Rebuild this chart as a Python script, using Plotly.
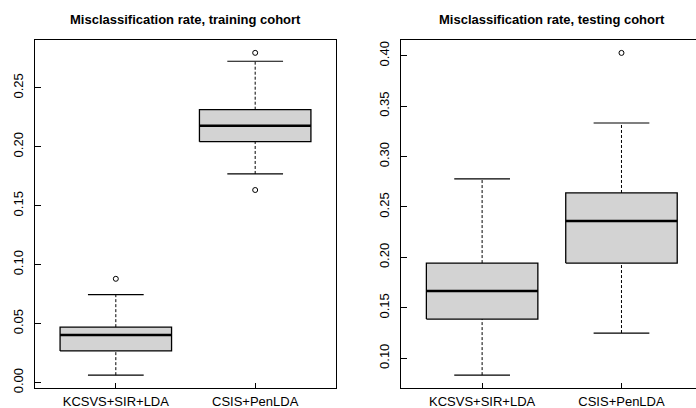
import plotly.graph_objects as go

categories = ["KCSVS+SIR+LDA", "CSIS+PenLDA"]
positions = [1, 2]

train_lower = [0.0063, 0.1769]
train_q1 = [0.0268, 0.2043]
train_median = [0.0404, 0.2178]
train_q3 = [0.0470, 0.2314]
train_upper = [0.0745, 0.2725]
train_outliers = [[0.0880], [0.1633, 0.2796]]

test_lower = [0.0833, 0.1250]
test_q1 = [0.1389, 0.1944]
test_median = [0.1667, 0.2361]
test_q3 = [0.1944, 0.2639]
test_upper = [0.2778, 0.3333]
test_outliers = [[], [0.4028]]

train_ticks = [0.00, 0.05, 0.10, 0.15, 0.20, 0.25]
test_ticks = [0.10, 0.15, 0.20, 0.25, 0.30, 0.35, 0.40]

titles = ["Misclassification rate, training cohort", "Misclassification rate, testing cohort"]

W, H = 696, 408
FONT = "Liberation Sans, Arial, Helvetica, sans-serif"
HALF = 0.4
CAP = 0.2

fig = go.Figure()


def add_boxes(xa, ya, lower, q1, med, q3, upper, outl):
    for i, c in enumerate(positions):
        # whiskers (dashed)
        fig.add_trace(go.Scatter(x=[c, c], y=[lower[i], q1[i]], mode="lines",
                                 line=dict(color="black", width=1, dash="3px,2px"),
                                 xaxis=xa, yaxis=ya, showlegend=False, hoverinfo="skip"))
        fig.add_trace(go.Scatter(x=[c, c], y=[q3[i], upper[i]], mode="lines",
                                 line=dict(color="black", width=1, dash="3px,2px"),
                                 xaxis=xa, yaxis=ya, showlegend=False, hoverinfo="skip"))
        # staples
        for v in (lower[i], upper[i]):
            fig.add_trace(go.Scatter(x=[c - CAP, c + CAP], y=[v, v], mode="lines",
                                     line=dict(color="black", width=1.2),
                                     xaxis=xa, yaxis=ya, showlegend=False, hoverinfo="skip"))
        # box
        fig.add_trace(go.Scatter(x=[c - HALF, c + HALF, c + HALF, c - HALF, c - HALF],
                                 y=[q1[i], q1[i], q3[i], q3[i], q1[i]],
                                 mode="lines", fill="toself", fillcolor="#D3D3D3",
                                 line=dict(color="black", width=1.3),
                                 xaxis=xa, yaxis=ya, showlegend=False, hoverinfo="skip"))
        # median
        fig.add_trace(go.Scatter(x=[c - HALF, c + HALF], y=[med[i], med[i]], mode="lines",
                                 line=dict(color="black", width=2.5),
                                 xaxis=xa, yaxis=ya, showlegend=False, hoverinfo="skip"))
        # outliers
        if outl[i]:
            fig.add_trace(go.Scatter(x=[c] * len(outl[i]), y=outl[i], mode="markers",
                                     marker=dict(symbol="circle-open", size=5, color="black",
                                                 line=dict(width=1)),
                                     xaxis=xa, yaxis=ya, showlegend=False, hoverinfo="skip"))


add_boxes("x", "y", train_lower, train_q1, train_median, train_q3, train_upper, train_outliers)
add_boxes("x2", "y2", test_lower, test_q1, test_median, test_q3, test_upper, test_outliers)

ppu = (336 - 35) / 2.16
right_end = 0.42 + (W - 401.3) / ppu

axis_font = dict(family=FONT, size=13, color="black")
common_x = dict(tickmode="array", tickvals=positions, ticktext=categories,
                ticks="inside", ticklen=5, tickcolor="black", tickwidth=1,
                showline=True, linecolor="black", linewidth=1.2, automargin=False,
                showgrid=False, zeroline=False, tickfont=axis_font, ticklabelstandoff=1)
common_y = dict(ticks="inside", ticklen=6, tickcolor="black", tickwidth=1,
                showline=True, linecolor="black", linewidth=1.2, automargin=False,
                showgrid=False, zeroline=False, tickfont=axis_font, tickangle=-90,
                tickformat=".2f", ticklabelstandoff=6)

ydom = [(H - 388) / H, (H - 40) / H]

fig.update_layout(
    width=W, height=H,
    margin=dict(l=0, r=0, t=0, b=0),
    paper_bgcolor="white", plot_bgcolor="white",
    showlegend=False,
    xaxis=dict(domain=[35 / W, 336 / W], range=[0.42, 2.58], mirror=True, anchor="y", **common_x),
    yaxis=dict(domain=ydom, range=[-0.0046, 0.2905], mirror=True, anchor="x",
               tickvals=train_ticks, **common_y),
    xaxis2=dict(domain=[401.3 / W, 1.0], range=[0.42, right_end], mirror=True, anchor="y2", **common_x),
    yaxis2=dict(domain=ydom, range=[0.0705, 0.4156], mirror=False, anchor="x2",
                tickvals=test_ticks, **common_y),
    annotations=[
        dict(text="<b>" + titles[0] + "</b>", x=186 / W, y=(H - 19.5) / H, xref="paper", yref="paper",
             xanchor="center", yanchor="middle", showarrow=False,
             font=dict(family=FONT, size=13, color="black")),
        dict(text="<b>" + titles[1] + "</b>", x=552 / W, y=(H - 19.5) / H, xref="paper", yref="paper",
             xanchor="center", yanchor="middle", showarrow=False,
             font=dict(family=FONT, size=13, color="black")),
    ],
)

fig.write_html("out.html", config={"displayModeBar": False},
               post_script="document.body.style.margin='0';document.body.style.overflow='hidden';")
